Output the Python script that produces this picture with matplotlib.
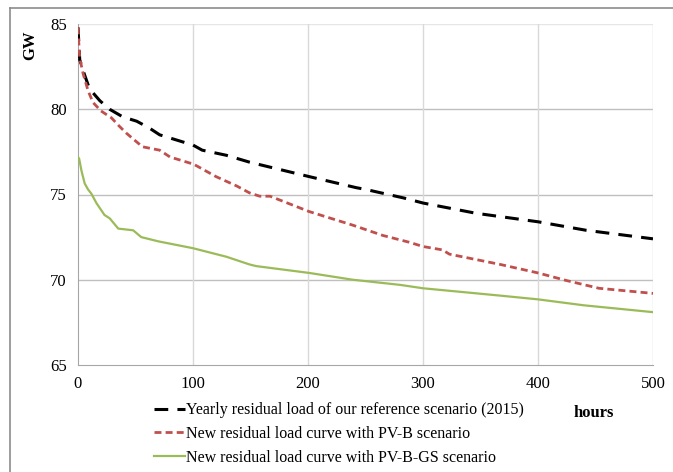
import matplotlib
matplotlib.use("Agg")
import matplotlib.pyplot as plt
from matplotlib.lines import Line2D

ref_x = [0, 1.5, 5.8, 10, 19, 27.5, 39, 51, 62, 71, 100, 108, 129, 149, 155, 201, 242, 250, 283, 300, 346, 400, 442, 500]
ref_y = [84.8, 82.9, 82.0, 81.2, 80.5, 80.0, 79.55, 79.3, 78.9, 78.5, 77.9, 77.6, 77.3, 76.9, 76.8, 76.05, 75.4, 75.3, 74.8, 74.5, 73.9, 73.4, 72.9, 72.4]

pvb_x = [0, 0.5, 1.5, 4.4, 8.7, 13, 20, 29, 36, 42, 56, 71, 80, 97, 100, 120, 138, 149, 158, 167, 201, 239, 265, 288, 300, 317, 323, 367, 400, 425, 453, 500]
pvb_y = [84.8, 84.1, 83.0, 82.1, 81.1, 80.4, 79.9, 79.5, 79.0, 78.6, 77.8, 77.6, 77.2, 76.85, 76.8, 76.05, 75.5, 75.1, 74.9, 74.9, 74.0, 73.2, 72.6, 72.2, 71.95, 71.75, 71.5, 70.9, 70.4, 69.95, 69.5, 69.2]

gs_x = [0, 1, 3, 5.8, 8.7, 11.6, 16, 23, 27.6, 35, 48, 55, 70, 100, 129, 149, 155, 201, 239, 280, 300, 367, 400, 440, 500]
gs_y = [77.2, 77.1, 76.4, 75.65, 75.3, 75.05, 74.5, 73.8, 73.6, 73.0, 72.9, 72.5, 72.25, 71.85, 71.35, 70.9, 70.8, 70.4, 70.0, 69.7, 69.5, 69.07, 68.85, 68.5, 68.1]

labels = ["Yearly residual load of our reference scenario (2015)",
          "New residual load curve with PV-B scenario",
          "New residual load curve with PV-B-GS scenario"]
x_ticks = [0, 100, 200, 300, 400, 500]
y_ticks = [65, 70, 75, 80, 85]

plt.rcParams['font.family'] = ['Liberation Serif', 'DejaVu Serif']

W, H = 673, 472
fig = plt.figure(figsize=(W / 100, H / 100), dpi=100)
ax = fig.add_axes([78 / W, 1 - 365 / H, (653 - 78) / W, (365 - 24) / H])

# outer frame
fig.add_artist(Line2D([10 / W, 1.0], [1 - 8 / H, 1 - 8 / H], transform=fig.transFigure, color='#8c8c8c', lw=1.2))
fig.add_artist(Line2D([10 / W, 10 / W], [1 - 8 / H, 0.0], transform=fig.transFigure, color='#8c8c8c', lw=1.2))

for y in [70, 75, 80]:
    ax.axhline(y, color='#bfbfbf', lw=1.0, zorder=1)
ax.axhline(85, color='#e6e6e6', lw=1.0, zorder=1)
for x in [100, 200, 300, 400, 500]:
    ax.axvline(x, color='#d9d9d9', lw=1.0, zorder=1)

l1, = ax.plot(ref_x, ref_y, color='black', lw=2.2, dashes=(4.5, 3), zorder=3)
l2, = ax.plot(pvb_x, pvb_y, color='#c0504d', lw=2.0, dashes=(2.5, 1.5), zorder=3)
l3, = ax.plot(gs_x, gs_y, color='#9bbb59', lw=1.6, zorder=3)

ax.set_xlim(0, 500)
ax.set_ylim(65, 85)
ax.set_xticks(x_ticks)
ax.set_yticks(y_ticks)
ax.tick_params(length=0, labelsize=12, pad=8)
for s in ['top', 'right']:
    ax.spines[s].set_visible(False)
ax.spines['left'].set_color('#a6a6a6')
ax.spines['bottom'].set_color('#a6a6a6')

fig.text(30 / W, 1 - 45 / H, "GW", rotation=90, fontsize=12, fontweight='bold', ha='center', va='center')
fig.text(594 / W, 1 - 413 / H, "hours", fontsize=12, fontweight='bold', ha='center', va='center')

fig.legend([l1, l2, l3], labels, loc='upper left', bbox_to_anchor=(148 / W, 1 - 396 / H),
           frameon=False, fontsize=11.5, handlelength=1.9, handletextpad=0.1, labelspacing=0.48,
           borderaxespad=0)

fig.savefig("out.png", dpi=100)
